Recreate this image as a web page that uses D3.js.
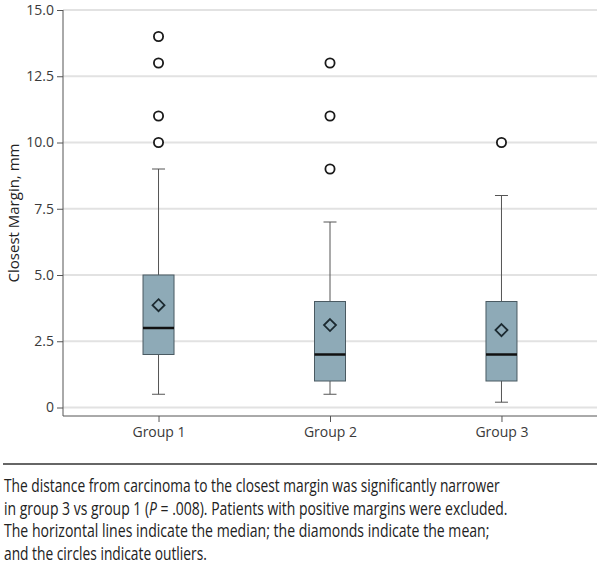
<!DOCTYPE html>
<html><head><meta charset="utf-8">
<script src="https://cdn.jsdelivr.net/npm/d3@7"></script>
<style>body{margin:0;background:#fff}svg{display:block}</style>
</head><body>
<svg id="c" width="601" height="566"></svg>
<script>
const groups = ["Group 1", "Group 2", "Group 3"];
const whiskerLow = [0.5, 0.5, 0.2];
const q1 = [2, 1, 1];
const median = [3, 2, 2];
const q3 = [5, 4, 4];
const whiskerHigh = [9, 7, 8];
const means = [3.86, 3.11, 2.92];
const outliers = [[10, 11, 13, 14], [9, 11, 13], [10]];
const yTicks = [0, 2.5, 5, 7.5, 10, 12.5, 15];
const yLabel = "Closest Margin, mm";
const caption = [
  ["The distance from carcinoma to the closest margin was significantly narrower"],
  ["in group 3 vs group 1 (", {i: "P"}, " = .008). Patients with positive margins were excluded."],
  ["The horizontal lines indicate the median; the diamonds indicate the mean;"],
  ["and the circles indicate outliers."]
];
const captionWidths = [496, 504, 486, 203];

const svg = d3.select("#c");
const left = 63, right = 597, axisY = 416;
const y = d3.scaleLinear().domain([0, 15]).range([407.5, 10]);
const x = d3.scalePoint().domain(groups).range([left, right]).padding(0.557);
const boxW = 31, capW = 13;
const font = "'Open Sans', sans-serif";

// gridlines
svg.append("g").selectAll("line").data(yTicks).join("line")
  .attr("x1", left).attr("x2", right)
  .attr("y1", d => y(d)).attr("y2", d => y(d))
  .attr("stroke", "#e2e2e2").attr("stroke-width", 2);

// y axis
const ya = svg.append("g").attr("transform", `translate(${left},0)`)
  .call(d3.axisLeft(y).tickValues(yTicks).tickSize(6).tickPadding(3)
    .tickFormat(d => d === 0 ? "0" : d3.format(".1f")(d)));
ya.select(".domain").remove();
ya.selectAll(".tick line").attr("stroke", "#555");
ya.selectAll("text").attr("font-family", font).attr("font-size", 14).attr("fill", "#3a3a3a");
svg.append("line").attr("x1", left).attr("x2", left).attr("y1", y(15)).attr("y2", axisY)
  .attr("stroke", "#555").attr("stroke-width", 1);

// x axis
const xa = svg.append("g").attr("transform", `translate(0,${axisY})`)
  .call(d3.axisBottom(x).tickSize(6).tickPadding(5));
xa.select(".domain").remove();
xa.selectAll(".tick line").attr("stroke", "#555");
xa.selectAll("text").attr("font-family", font).attr("font-size", 14).attr("fill", "#3a3a3a");
svg.append("line").attr("x1", left).attr("x2", right).attr("y1", axisY).attr("y2", axisY)
  .attr("stroke", "#555").attr("stroke-width", 1);

// y label
svg.append("text").attr("transform", `translate(19,213) rotate(-90)`)
  .attr("text-anchor", "middle").attr("font-family", font).attr("font-size", 15)
  .attr("fill", "#222").text(yLabel);

// boxes
const g = svg.append("g");
groups.forEach((grp, i) => {
  const cx = x(grp);
  const gg = g.append("g");
  gg.append("line").attr("x1", cx).attr("x2", cx).attr("y1", y(whiskerLow[i])).attr("y2", y(q1[i]))
    .attr("stroke", "#555");
  gg.append("line").attr("x1", cx).attr("x2", cx).attr("y1", y(q3[i])).attr("y2", y(whiskerHigh[i]))
    .attr("stroke", "#555");
  [whiskerLow[i], whiskerHigh[i]].forEach(v => {
    gg.append("line").attr("x1", cx - capW / 2).attr("x2", cx + capW / 2)
      .attr("y1", y(v)).attr("y2", y(v)).attr("stroke", "#555");
  });
  gg.append("rect").attr("x", cx - boxW / 2).attr("width", boxW)
    .attr("y", y(q3[i])).attr("height", y(q1[i]) - y(q3[i]))
    .attr("fill", "#8eaab7").attr("stroke", "#4a5a62").attr("stroke-width", 1);
  gg.append("line").attr("x1", cx - boxW / 2).attr("x2", cx + boxW / 2)
    .attr("y1", y(median[i])).attr("y2", y(median[i]))
    .attr("stroke", "#111").attr("stroke-width", 2.5);
  const my = y(means[i]), r = 6;
  gg.append("path").attr("d", `M${cx},${my - r}L${cx + r},${my}L${cx},${my + r}L${cx - r},${my}Z`)
    .attr("fill", "none").attr("stroke", "#1c2a31").attr("stroke-width", 1.8);
  gg.selectAll("circle").data(outliers[i]).join("circle")
    .attr("cx", cx).attr("cy", d => y(d)).attr("r", 4.6)
    .attr("fill", "#fff").attr("stroke", "#1a1a1a").attr("stroke-width", 1.8);
});

// caption rule
svg.append("line").attr("x1", 3).attr("x2", 597).attr("y1", 464).attr("y2", 464)
  .attr("stroke", "#333").attr("stroke-width", 1.5);

const baselines = [492, 514.5, 537, 559.5];
caption.forEach((parts, i) => {
  const gl = svg.append("g");
  const t = gl.append("text").attr("x", 0).attr("y", 0)
    .attr("font-family", font).attr("font-size", 18).attr("fill", "#222");
  parts.forEach(p => {
    if (typeof p === "string") t.append("tspan").text(p);
    else t.append("tspan").attr("font-style", "italic").text(p.i);
  });
  const w = t.node().getComputedTextLength();
  gl.attr("transform", `translate(4,${baselines[i]}) scale(${captionWidths[i] / w},1)`);
});
</script>
</body></html>
